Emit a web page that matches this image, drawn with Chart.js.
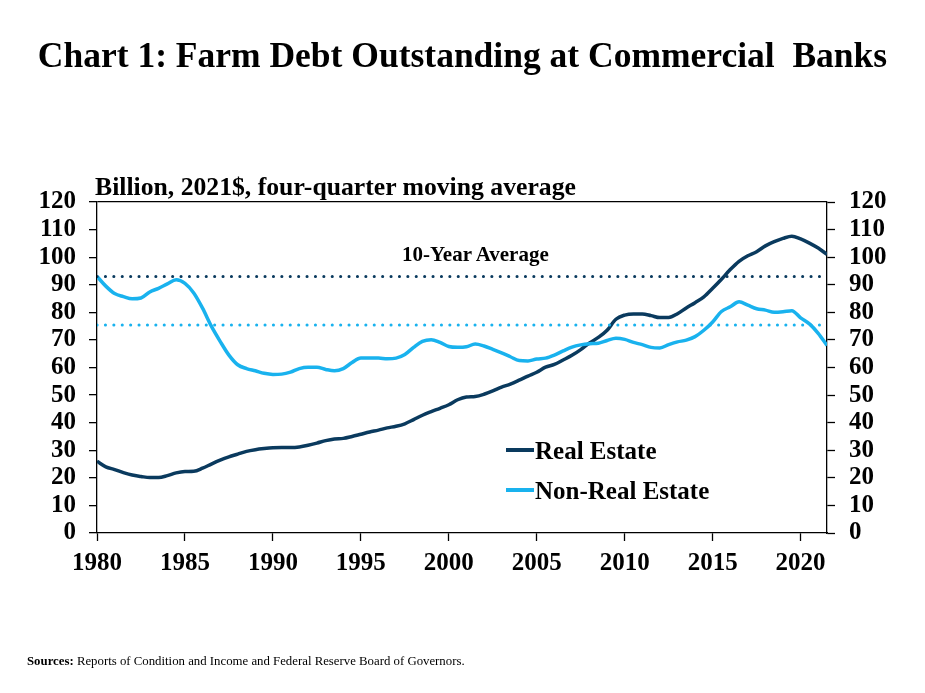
<!DOCTYPE html>
<html>
<head>
<meta charset="utf-8">
<script src="https://cdn.jsdelivr.net/npm/chart.js@4/dist/chart.umd.min.js"></script>
<style>
  html, body { margin:0; padding:0; background:#fff; }
  #wrap { position:relative; width:925px; height:693px; overflow:hidden; font-family:"Liberation Serif","Times New Roman",serif; color:#000; }
  #c { position:absolute; left:0; top:0; }
  .t { position:absolute; white-space:pre; line-height:1; font-weight:bold; }
  #title { left:0; width:925px; text-align:center; top:38px; font-size:35.5px; }
  #sub { left:95px; top:174px; font-size:25.7px; }
  #avg { left:402px; top:244px; font-size:21px; }
  #src { left:27px; top:655px; font-size:12.8px; font-weight:normal; }
  .lg { position:absolute; height:4px; width:28px; }
  .lgt { position:absolute; font-size:25px; font-weight:bold; line-height:1; white-space:pre; }
</style>
</head>
<body>
<div id="wrap">
  <canvas id="c" width="925" height="693"></canvas>
  <div class="t" id="title">Chart 1: Farm Debt Outstanding at Commercial  Banks</div>
  <div class="t" id="sub">Billion, 2021$, four-quarter moving average</div>
  <div class="t" id="avg">10-Year Average</div>
  <div class="lg" style="left:506px; top:448px; background:#0A3A5E;"></div>
  <div class="lgt" style="left:535px; top:438px;">Real Estate</div>
  <div class="lg" style="left:506px; top:488px; background:#19B2EE;"></div>
  <div class="lgt" style="left:535px; top:478px;">Non-Real Estate</div>
  <div class="t" id="src"><b>Sources:</b> Reports of Condition and Income and Federal Reserve Board of Governors.</div>
</div>
<script>
// Half-year positions (decimal years)
const years = [
  1980.0,1980.5,1981.0,1981.5,1982.0,1982.5,1983.0,1983.5,1984.0,1984.5,
  1985.0,1985.5,1986.0,1986.5,1987.0,1987.5,1988.0,1988.5,1989.0,1989.5,
  1990.0,1990.5,1991.0,1991.5,1992.0,1992.5,1993.0,1993.5,1994.0,1994.5,
  1995.0,1995.5,1996.0,1996.5,1997.0,1997.5,1998.0,1998.5,1999.0,1999.5,
  2000.0,2000.5,2001.0,2001.5,2002.0,2002.5,2003.0,2003.5,2004.0,2004.5,
  2005.0,2005.5,2006.0,2006.5,2007.0,2007.5,2008.0,2008.5,2009.0,2009.5,
  2010.0,2010.5,2011.0,2011.5,2012.0,2012.5,2013.0,2013.5,2014.0,2014.5,
  2015.0,2015.5,2016.0,2016.5,2017.0,2017.5,2018.0,2018.5,2019.0,2019.5,
  2020.0,2020.5,2021.0,2021.5
];
const realEstate = [
  26.0,24.0,23.0,21.9,21.0,20.5,20.1,20.1,20.8,21.8,
  22.3,22.4,23.5,25.0,26.4,27.6,28.6,29.6,30.2,30.6,
  30.9,31.0,31.0,31.2,31.8,32.6,33.5,34.1,34.3,35.0,
  35.8,36.6,37.3,38.1,38.7,39.6,41.1,42.7,44.0,45.2,
  46.5,48.3,49.3,49.5,50.3,51.5,52.9,54.0,55.4,56.9,
  58.3,60.1,61.1,62.7,64.4,66.5,68.9,70.9,73.5,77.5,
  79.0,79.4,79.4,78.8,78.1,78.1,79.5,81.6,83.5,85.6,
  88.7,92.0,95.5,98.5,100.5,102.0,104.1,105.6,106.8,107.6,
  106.6,105.1,103.3,101.0
];
const nonRealEstate = [
  93.0,89.5,86.8,85.7,84.9,85.2,87.4,88.7,90.3,91.8,
  90.5,87.0,81.5,75.0,69.5,64.5,61.0,59.6,58.8,57.9,
  57.5,57.6,58.3,59.6,60.1,60.1,59.3,58.8,59.6,61.8,
  63.4,63.4,63.4,63.2,63.4,64.7,67.3,69.5,70.1,69.1,
  67.6,67.3,67.5,68.5,67.8,66.6,65.3,63.9,62.5,62.4,
  63.1,63.4,64.5,66.0,67.4,68.2,68.6,68.8,69.8,70.6,
  70.2,69.1,68.3,67.3,67.1,68.3,69.3,69.9,71.2,73.5,
  76.5,80.3,82.0,83.8,82.6,81.3,80.8,80.0,80.2,80.6,
  78.0,75.8,72.4,68.0
];
const avgRealEstate = 93.0;
const avgNonRealEstate = 75.4;
const xTickYears = [1980,1985,1990,1995,2000,2005,2010,2015,2020];
const yTicks = [0,10,20,30,40,50,60,70,80,90,100,110,120];

const DARK = '#0A3A5E', LIGHT = '#19B2EE';
const pts = arr => arr.map((v,i) => ({x: years[i], y: v}));
const xMin = years[0], xMax = years[years.length-1];
const hline = v => [{x:xMin, y:v},{x:xMax, y:v}];

const tickFont = {family:'"Liberation Serif", "Times New Roman", serif', size:25, weight:'bold'};

new Chart(document.getElementById('c'), {
  type: 'line',
  data: {
    datasets: [
      {label:'avgRE', data: hline(avgRealEstate), borderColor: DARK, borderWidth:3, borderDash:[0.1,8.3], borderCapStyle:'round', pointRadius:0, fill:false},
      {label:'avgNRE', data: hline(avgNonRealEstate), borderColor: LIGHT, borderWidth:3, borderDash:[0.1,8.3], borderCapStyle:'round', pointRadius:0, fill:false},
      {label:'Non-Real Estate', data: pts(nonRealEstate), borderColor: LIGHT, borderWidth:3.5, pointRadius:0, cubicInterpolationMode:'monotone', fill:false},
      {label:'Real Estate', data: pts(realEstate), borderColor: DARK, borderWidth:3.5, pointRadius:0, cubicInterpolationMode:'monotone', fill:false}
    ]
  },
  options: {
    responsive:false, animation:false, devicePixelRatio:1,
    layout:{padding:{top:202,left:0,right:0,bottom:0}},
    plugins:{legend:{display:false}, tooltip:{enabled:false}},
    scales:{
      x:{
        type:'linear', min:xMin, max:xMax,
        afterBuildTicks: s => { s.ticks = xTickYears.map(v => ({value:v})); },
        afterFit: s => { s.height = 160; },
        grid:{drawOnChartArea:false, drawTicks:true, tickLength:8, tickColor:'#000', tickWidth:1.3},
        border:{color:'#000', width:1.3},
        ticks:{color:'#000', font:tickFont, padding:8, maxRotation:0, autoSkip:false, callback:v => String(v)}
      },
      y:{
        position:'left', min:0, max:120,
        afterBuildTicks: s => { s.ticks = yTicks.map(v => ({value:v})); },
        afterFit: s => { s.width = 97; },
        grid:{drawOnChartArea:true, color: c => (c.tick && c.tick.value === 120) ? '#000' : 'rgba(0,0,0,0)', lineWidth:1.3, drawTicks:true, tickLength:8, tickColor:'#000', tickWidth:1.3},
        border:{color:'#000', width:1.3},
        ticks:{color:'#000', font:tickFont, padding:13, autoSkip:false}
      },
      y2:{
        position:'right', min:0, max:120,
        afterBuildTicks: s => { s.ticks = yTicks.map(v => ({value:v})); },
        afterFit: s => { s.width = 98; },
        grid:{drawOnChartArea:false, drawTicks:true, tickLength:8, tickColor:'#000', tickWidth:1.3},
        border:{color:'#000', width:1.3},
        ticks:{color:'#000', font:tickFont, padding:14, autoSkip:false}
      }
    }
  }
});
</script>
</body>
</html>
